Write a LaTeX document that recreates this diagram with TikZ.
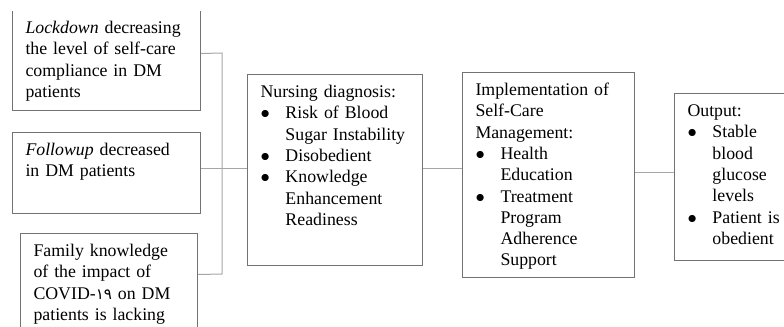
\documentclass[tikz,border=0pt]{standalone}
\usepackage{fontspec}
\setmainfont{Liberation Serif}
\newfontfamily\arabicfont[Script=Arabic,Scale=0.85]{DejaVu Sans}
\usetikzlibrary{positioning, calc}
\newcommand{\bul}{\makebox[12.5pt][l]{$\bullet$}}
\newcommand{\ind}{\hspace*{12.5pt}}
\tikzset{
  stepbox/.style={rectangle,draw=black!55,line width=0.5pt,anchor=north west,align=left,inner xsep=6.5pt,inner ysep=5.5pt,text height=6pt,font=\fontsize{8.9}{10.65}\selectfont},
  link/.style={draw=black!35,line width=0.5pt},
}

\begin{document}
\begin{tikzpicture}[x=0.5pt,y=-0.5pt]
	    \useasboundingbox (0,0) rectangle (784,327);
	    \clip (0,11) rectangle (784,327);
	    \node[stepbox,text width=81pt,text depth=33pt] (lockdown) at (12,10) {\textit{Lockdown} decreasing\\the level of self-care\\compliance in DM\\patients};
	    \node[stepbox,text width=81pt,text depth=23.5pt] (followup) at (12,132) {\textit{Followup} decreased\\in DM patients};
	    \node[stepbox,text width=75.5pt,text depth=39pt] (family) at (20,233) {Family knowledge\\of the impact of\\COVID-{\arabicfont ١٩} on DM\\patients is lacking};
	    \node[stepbox,text width=74.5pt,text depth=78.5pt] (diag) at (247,74) {Nursing diagnosis:\\\bul Risk of Blood\\\ind Sugar Instability\\\bul Disobedient\\\bul Knowledge\\\ind Enhancement\\\ind Readiness};
	    \node[stepbox,text width=73pt,text depth=85.5pt] (impl) at (462,72) {Implementation of\\Self-Care\\Management:\\\bul Health\\\ind Education\\\bul Treatment\\\ind Program\\\ind Adherence\\\ind Support};
	    \node[stepbox,text width=52pt,text depth=66.5pt] (output) at (674,93) {Output:\\\bul Stable\\\ind blood\\\ind glucose\\\ind levels\\\bul Patient is\\\ind obedient};
	    \coordinate (bustop) at (222,53);
	    \coordinate (busbot) at (222,274);
	    \draw[link] ([yshift=3.5pt]lockdown.east) -- (bustop) -- (busbot) -- ([yshift=7.5pt]family.east);
	    \draw[link] ([yshift=2.25pt]followup.east) -- ([yshift=0.75pt]diag.west);
	    \draw[link] ([yshift=0.75pt]diag.east) -- ([yshift=3.25pt]impl.west);
	    \draw[link] ([yshift=1.25pt]impl.east) -- ([yshift=2.25pt]output.west);
	\end{tikzpicture}
\end{document}
